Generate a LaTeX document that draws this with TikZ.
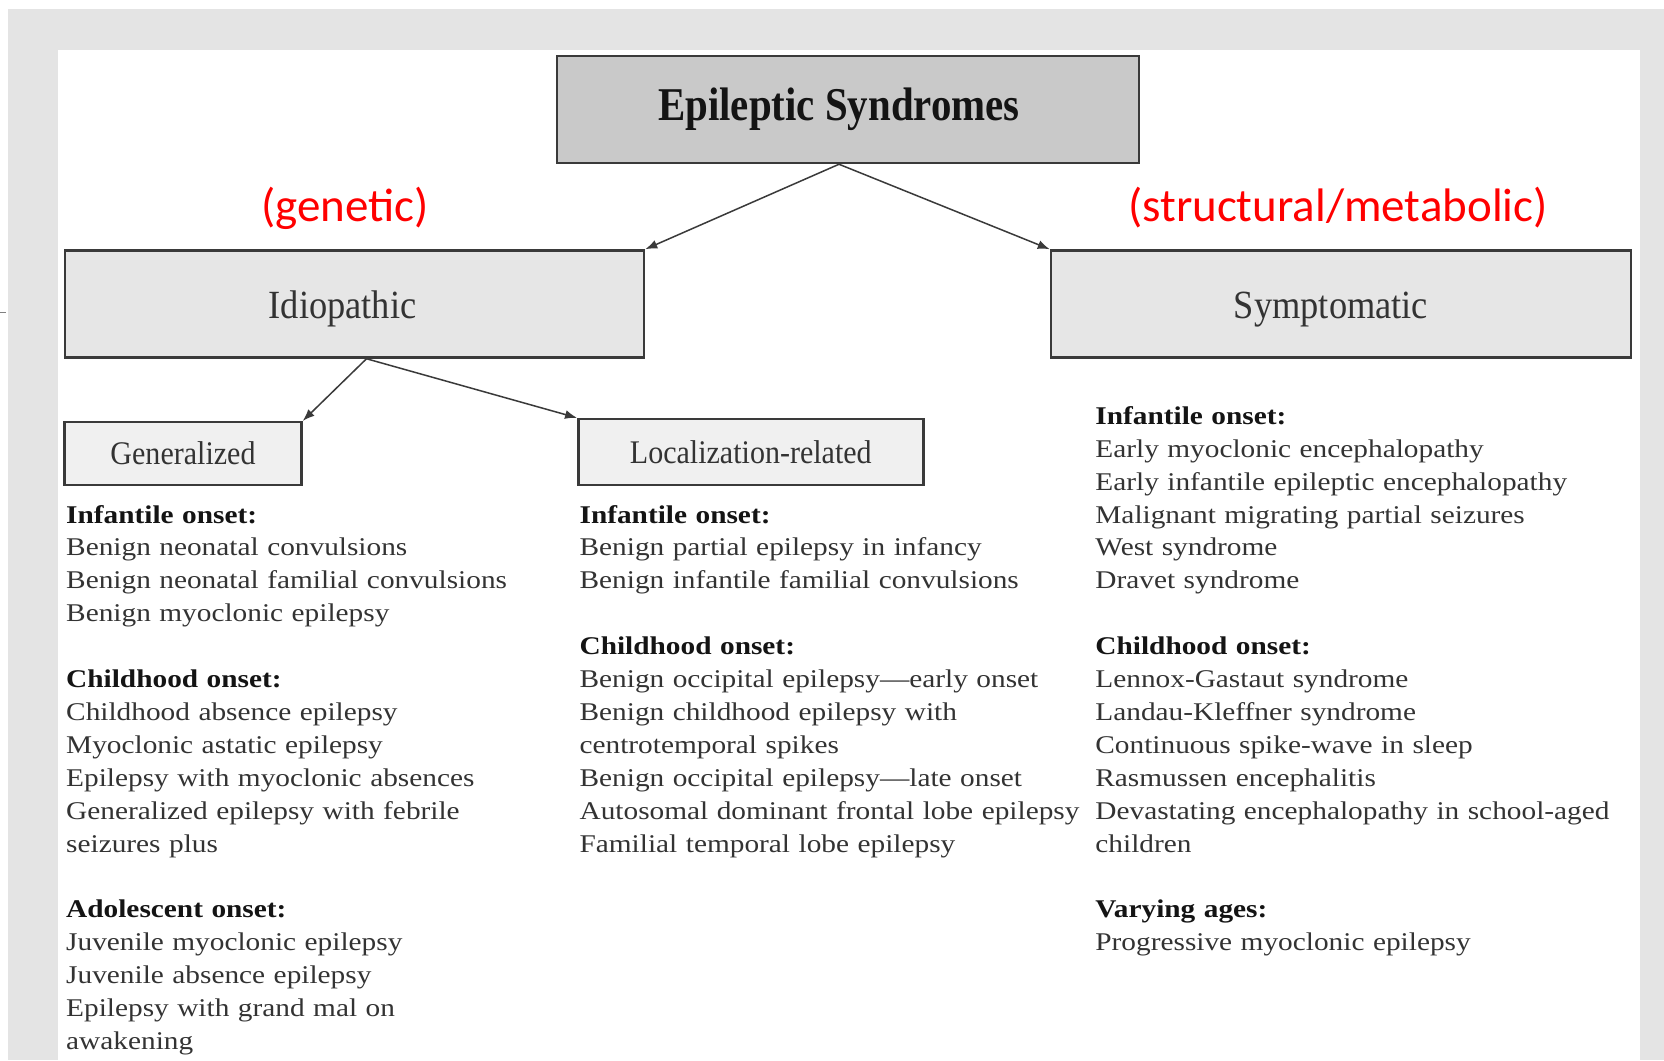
\documentclass[tikz,border=0pt]{standalone}
\usepackage{fontspec}
\usetikzlibrary{arrows.meta}
\newfontfamily\bodyfont[FakeStretch=1.15]{Liberation Serif}
\newfontfamily\boxfont[FakeStretch=0.91]{Liberation Serif}
\newfontfamily\titlefont[FakeStretch=0.87]{Liberation Serif}
\newfontfamily\redfont{Carlito}
\definecolor{bggray}{HTML}{E4E4E4}
\definecolor{esfill}{HTML}{C9C9C9}
\definecolor{midfill}{HTML}{E6E6E6}
\definecolor{lowfill}{HTML}{F0F0F0}
\definecolor{edgecol}{HTML}{3A3A3A}
\definecolor{txtcol}{HTML}{333333}
\definecolor{hdcol}{HTML}{141414}
\definecolor{redlbl}{HTML}{FF0000}
\newcommand\colhead[1]{{\bfseries\color{hdcol}#1}}
\begin{document}
\begin{tikzpicture}[x=1pt,y=-1pt,
  cbox/.style={draw=edgecol, line width=2.5pt, inner sep=0pt, text=txtcol},
  tcol/.style={anchor=base west, inner sep=0pt, align=left, text width=560pt,
    font=\bodyfont\fontsize{25.5}{32.9}\selectfont, text=txtcol},
  conn/.style={draw=edgecol, line width=1.5pt, -{Latex[length=12pt,width=9pt]}},
  redtxt/.style={text=redlbl, inner sep=0pt, font=\redfont\fontsize{47}{56}\selectfont}]
\useasboundingbox (0,0) rectangle (1664,1060);
% background
\fill[bggray] (8,9) rectangle (1664,1060);
\fill[white] (58,50) rectangle (1640,1060);
\draw[gray, line width=1pt] (0,312) -- (6,312);
% boxes
\node[cbox, fill=esfill, minimum width=582pt, minimum height=107pt] (es) at (848,109.5) {};
\node[cbox, fill=midfill, minimum width=579pt, minimum height=107pt] (idio) at (354.5,304) {};
\node[cbox, fill=midfill, minimum width=580pt, minimum height=107pt] (symp) at (1341,304) {};
\node[cbox, fill=lowfill, minimum width=237pt, minimum height=63pt,
  font=\boxfont\fontsize{33}{40}\selectfont] (gen) at (183,453.7) {Generalized};
\node[cbox, fill=lowfill, minimum width=345pt, minimum height=66pt,
  font=\boxfont\fontsize{33}{40}\selectfont] (loc) at (750.8,452.1) {Localization-related};
% box labels (slightly left of centre, as printed)
\node[inner sep=0pt, anchor=base, text=hdcol, font=\titlefont\bfseries\fontsize{47}{56}\selectfont]
  (estitle) at ([xshift=-9pt,yshift=-11pt]es.center) {Epileptic Syndromes};
\node[inner sep=0pt, anchor=base, text=txtcol, font=\boxfont\fontsize{40}{48}\selectfont]
  (idiotitle) at ([xshift=-12pt,yshift=-14pt]idio.center) {Idiopathic};
\node[inner sep=0pt, anchor=base, text=txtcol, font=\boxfont\fontsize{40}{48}\selectfont]
  (symptitle) at ([xshift=-10pt,yshift=-14pt]symp.center) {Symptomatic};
% red labels
\node[redtxt] (genetic) at (345,208) {(genetic)};
\node[redtxt] (structural) at (1338,208) {(structural/metabolic)};
% connectors
\draw[conn] ([xshift=-9pt]es.south) -- (idio.north east);
\draw[conn] ([xshift=-9pt]es.south) -- (symp.north west);
\draw[conn] ([xshift=12pt]idio.south) -- (gen.north east);
\draw[conn] ([xshift=12pt]idio.south) -- (loc.north west);
% text columns
\node[tcol] (leftcol) at (66,523) {\colhead{Infantile onset:}\\
Benign neonatal convulsions\\
Benign neonatal familial convulsions\\
Benign myoclonic epilepsy\\[32.9pt]
\colhead{Childhood onset:}\\
Childhood absence epilepsy\\
Myoclonic astatic epilepsy\\
Epilepsy with myoclonic absences\\
Generalized epilepsy with febrile\\
seizures plus\\[32.9pt]
\colhead{Adolescent onset:}\\
Juvenile myoclonic epilepsy\\
Juvenile absence epilepsy\\
Epilepsy with grand mal on\\
awakening};
\node[tcol] (midcol) at (579.4,523) {\colhead{Infantile onset:}\\
Benign partial epilepsy in infancy\\
Benign infantile familial convulsions\\[32.9pt]
\colhead{Childhood onset:}\\
Benign occipital epilepsy—early onset\\
Benign childhood epilepsy with\\
centrotemporal spikes\\
Benign occipital epilepsy—late onset\\
Autosomal dominant frontal lobe epilepsy\\
Familial temporal lobe epilepsy};
\node[tcol] (rightcol) at (1095.2,424.3) {\colhead{Infantile onset:}\\
Early myoclonic encephalopathy\\
Early infantile epileptic encephalopathy\\
Malignant migrating partial seizures\\
West syndrome\\
Dravet syndrome\\[32.9pt]
\colhead{Childhood onset:}\\
Lennox-Gastaut syndrome\\
Landau-Kleffner syndrome\\
Continuous spike-wave in sleep\\
Rasmussen encephalitis\\
Devastating encephalopathy in school-aged\\
children\\[32.9pt]
\colhead{Varying ages:}\\
Progressive myoclonic epilepsy};
\end{tikzpicture}
\end{document}
